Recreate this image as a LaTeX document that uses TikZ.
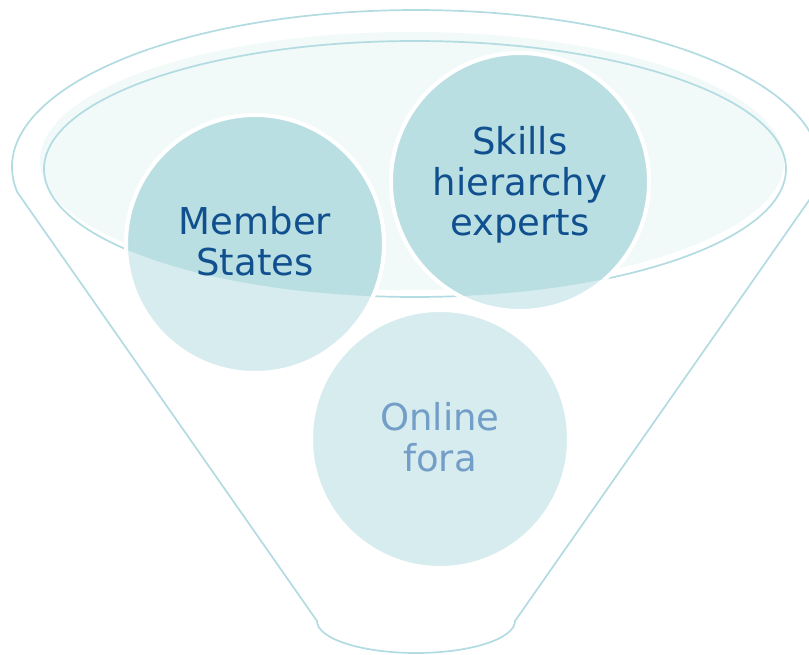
\documentclass[tikz,border=0pt]{standalone}
\usepackage{fontspec}
\setmainfont{DejaVu Sans}
\definecolor{rim}{HTML}{B2DCE1}
\definecolor{band}{HTML}{F1F9F9}
\definecolor{cdark}{HTML}{BADFE3}
\definecolor{clight}{HTML}{D6ECEF}
\definecolor{tdark}{HTML}{11508F}
\definecolor{tlight}{HTML}{739EC8}
\tikzset{
  rimline/.style={draw=rim, line width=1.7pt},
  bubble/.style={circle, minimum size=258pt, inner sep=0pt, outer sep=0pt, fill=clight, draw=white, line width=4pt},
  bubbletext/.style={align=center, font=\fontsize{37pt}{40.5pt}\selectfont, text=tdark, inner sep=0pt},
}
\begin{document}
\begin{tikzpicture}[x=1pt,y=1pt]
\useasboundingbox (0,0) rectangle (809,-655);
\clip (0,0) rectangle (809,-655);
\fill[white] (0,0) rectangle (809,-655);
% funnel top fill band and rim ellipse
\fill[band] (412,-161) ellipse [x radius=372, y radius=129];
\draw[rimline] (415,-169) ellipse [x radius=371, y radius=128];
% funnel outline
\draw[rimline, line join=round] (17.2,-192) arc [start angle=189.16, end angle=-9.16, x radius=404, y radius=157]
  -- (515,-621) arc [start angle=0, end angle=-180, x radius=99, y radius=32] -- cycle;
% bubbles
\node[bubble] (ms) at (255,-244) {};
\node[bubble] (sh) at (520,-182) {};
\node[bubble] (of) at (440,-439) {};
\begin{scope}
  \clip (415,-169) ellipse [x radius=371, y radius=128];
  \fill[cdark] (ms.center) circle [radius=129];
  \fill[cdark] (sh.center) circle [radius=129];
  \draw[white, line width=4pt] (ms.center) circle [radius=129];
  \draw[white, line width=4pt] (sh.center) circle [radius=129];
\end{scope}
% texts
\node[bubbletext] (mst) at (255,-241) {Member\\States};
\node[bubbletext] (sht) at (520,-185) {Skills\\hierarchy\\experts};
\node[bubbletext, text=tlight] (oft) at (440,-437) {Online\\fora};
\end{tikzpicture}
\end{document}
